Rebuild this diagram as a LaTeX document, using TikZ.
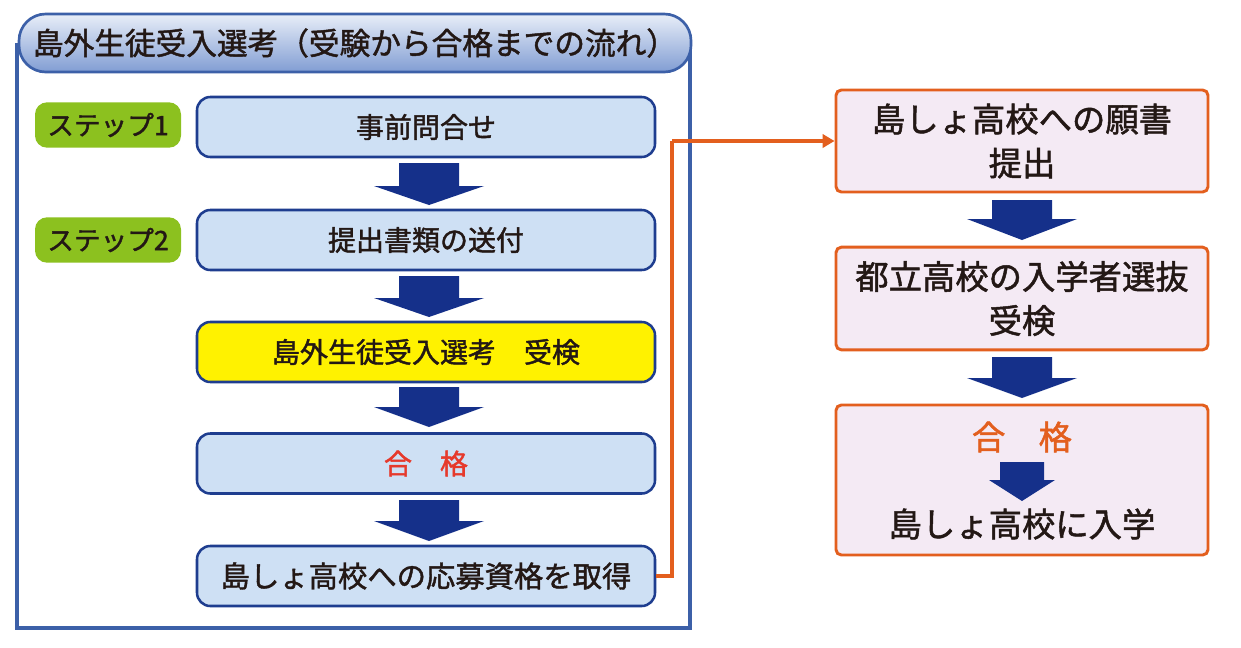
\documentclass[tikz,border=0pt]{standalone}
\usepackage{fontspec}
\setmainfont{Noto Sans CJK JP}[FakeBold=1.5]
\usetikzlibrary{arrows.meta}
\definecolor{navy}{HTML}{15308A}
\definecolor{boxfill}{HTML}{CEE0F4}
\definecolor{boxline}{HTML}{1E3D8F}
\definecolor{frameblue}{HTML}{3C60A8}
\definecolor{ylw}{HTML}{FFF200}
\definecolor{grn}{HTML}{8CC11F}
\definecolor{pinkfill}{HTML}{F4EAF4}
\definecolor{orng}{HTML}{E35F1E}
\definecolor{redtxt}{HTML}{E6392B}
\definecolor{txt}{HTML}{231815}
\definecolor{bantop}{HTML}{E8EEF8}
\definecolor{banbot}{HTML}{819DD3}
\tikzset{
  mainbox/.style={draw=boxline, line width=1.9pt, fill=boxfill, rounded corners=10pt,
    minimum width=343.5pt, minimum height=45pt, inner sep=0pt, text=txt,
    font=\fontsize{21}{25}\selectfont},
  stepbox/.style={fill=grn, rounded corners=9pt, minimum width=109.5pt,
    minimum height=34pt, inner sep=0pt, text=txt, font=\fontsize{20}{22}\selectfont},
  rbox/.style={draw=orng, line width=2.2pt, fill=pinkfill, rounded corners=4pt,
    minimum width=279pt, inner sep=0pt, text=txt, align=center,
    font=\fontsize{25}{33}\selectfont},
  conn/.style={draw=orng, line width=2.4pt},
}
% fat arrow: center x, top, base of head, tip, shaft half width, head half width
\newcommand\fatarrow[6]{%
  \fill[navy] (#1-#5,#2) -- (#1+#5,#2) -- (#1+#5,#3) -- (#1+#6,#3) -- (#1,#4)
    -- (#1-#6,#3) -- (#1-#5,#3) -- cycle;}
\begin{document}
\begin{tikzpicture}[x=0.75pt,y=-0.75pt]
\useasboundingbox[fill=white] (0,0) rectangle (1241,647);
% outer frame
\draw[frameblue, line width=2.4pt] (17,45) rectangle (690,628);
% title banner
\node[draw=frameblue, line width=2pt, rounded corners=20pt, top color=bantop,
  bottom color=banbot, minimum width=504pt, minimum height=43.5pt, inner sep=0pt,
  text=txt, font=\fontsize{23}{26}\selectfont] (title) at (355,43)
  {島外生徒受入選考（受験から合格までの流れ）};
% step labels
\node[stepbox] (s1) at (108,125) {ステップ1};
\node[stepbox] (s2) at (108,240) {ステップ2};
% main boxes
\node[mainbox] (b1) at (426,127) {事前問合せ};
\node[mainbox] (b2) at (426,240) {提出書類の送付};
\node[mainbox, fill=ylw] (b3) at (426,352) {島外生徒受入選考　受検};
\node[mainbox, text=redtxt] (b4) at (426,463.5) {合　格};
\node[mainbox, font=\fontsize{22}{26}\selectfont] (b5) at (426,576) {島しょ高校への応募資格を取得};
% arrows
\fatarrow{429}{163}{186}{205}{30}{55}
\fatarrow{429}{276}{298}{317}{30}{55}
\fatarrow{429}{387}{407}{427}{30}{55}
\fatarrow{429}{500}{521}{541}{30}{55}
% right boxes
\node[rbox, minimum height=76.5pt] (r1) at (1022,141) {島しょ高校への願書\\提出};
\node[rbox, minimum height=77pt] (r2) at (1022,298.5) {都立高校の入学者選抜\\受検};
\node[rbox, minimum height=112.5pt] (r3) at (1022,480) {};
\node[text=orng, font=\fontsize{25}{30}\selectfont, inner sep=0pt] (r3a) at (1022,437) {合　格};
\node[text=txt, font=\fontsize{25}{30}\selectfont, inner sep=0pt] (r3b) at (1022,524) {島しょ高校に入学};
\fatarrow{1022}{200}{219}{240}{30}{55}
\fatarrow{1022}{357}{378}{398}{30}{55}
\fatarrow{1022}{462}{480}{501}{22}{33}
% orange connector
\coordinate (bend) at (672,141);
\draw[conn] (b5.east) -| (bend);
\draw[conn, -{Triangle[length=9pt,width=10pt]}] (bend) -- (r1.west);
\end{tikzpicture}
\end{document}
